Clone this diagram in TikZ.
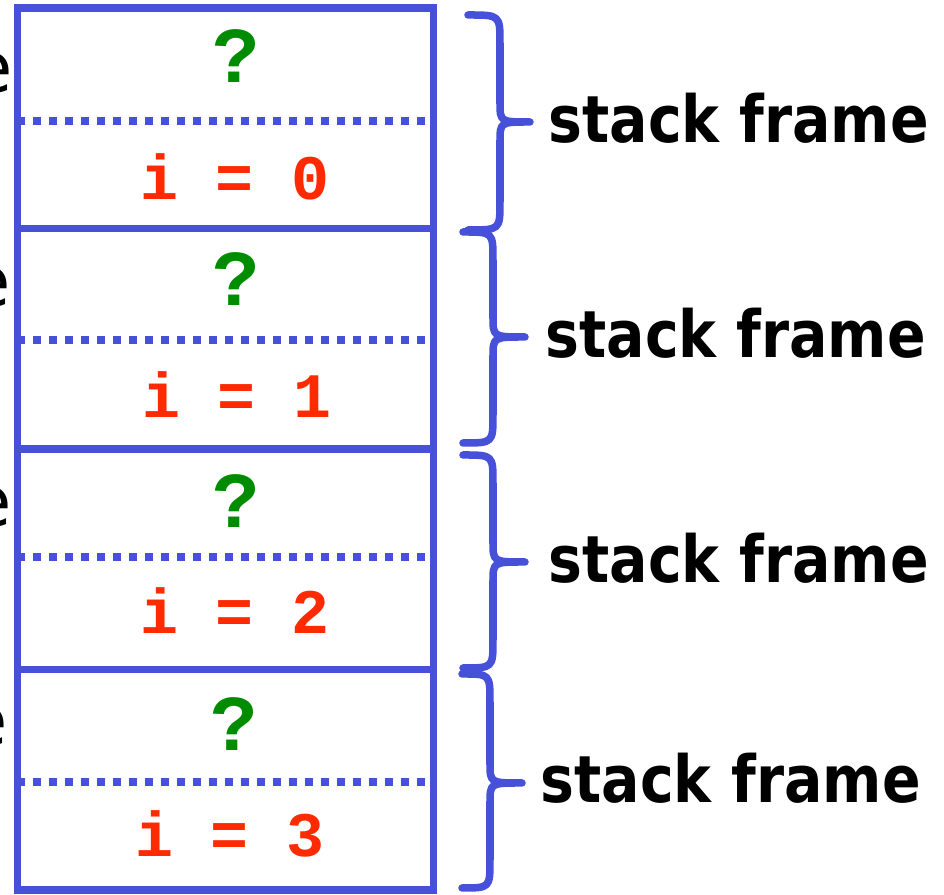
\documentclass[tikz,border=0pt]{standalone}
\usepackage{fontspec}
\setmainfont{DejaVu Sans}
\newfontfamily\monobold{Liberation Mono}[BoldFont={Liberation Mono Bold}]
\newfontfamily\labelfont{DejaVu Sans}
\definecolor{frameblue}{RGB}{70,80,216}
\definecolor{qgreen}{RGB}{0,140,0}
\definecolor{ired}{RGB}{255,42,0}
\tikzset{
  border/.style={draw=frameblue, line width=0.075cm, line join=miter},
  dotsep/.style={draw=frameblue, line width=0.08cm, dash pattern=on 0.08cm off 0.08cm, dash phase=0.04cm},
  bracepen/.style={draw=frameblue, line width=0.075cm, line cap=round, line join=round},
  qmark/.style={text=qgreen, font=\monobold\bfseries\fontsize{22.5}{23}\selectfont, anchor=base, inner sep=0pt},
  ivar/.style={text=ired, font=\monobold\bfseries\fontsize{18}{19}\selectfont, anchor=base, inner sep=0pt},
  sflabel/.style={text=black, font=\labelfont\bfseries\fontsize{18.5}{19}\selectfont, anchor=base west, inner sep=0pt},
  cutlabel/.style={text=black, font=\labelfont\fontsize{20}{20}\selectfont, anchor=base east, inner sep=0pt},
}
\newcommand{\drawbrace}[6]{% xarm, xspine, xtip, ytop, ymid, ybot
  \draw[bracepen] (#1,#4) .. controls (#2,#4) .. (#2,#4+28) -- (#2,#5-20)
    .. controls (#2,#5) .. (#3,#5)
    .. controls (#2,#5) .. (#2,#5+20) -- (#2,#6-28)
    .. controls (#2,#6) .. (#1,#6);
}
\begin{document}
\begin{tikzpicture}[x=0.01cm,y=-0.01cm]
\useasboundingbox (0,0) rectangle (944,895);
% cut-off labels at the left edge
\node[cutlabel] (e1) at (13,93) {e};
\node[cutlabel] (e2) at (11,307) {e};
\node[cutlabel] (e3) at (12,527) {e};
\node[cutlabel] (e4) at (8,746) {e};
% frames
\foreach \d in {121, 340, 557, 782} {
  \draw[dotsep] (21,\d) -- (430,\d);
}
\draw[border] (17.5,8) rectangle (433.5,890);
\draw[border] (17.5,228.5) -- (433.5,228.5);
\draw[border] (17.5,449) -- (433.5,449);
\draw[border] (17.5,669.5) -- (433.5,669.5);
% texts in frames
\node[qmark] (q0) at (236,83) {?};
\node[qmark] (q1) at (236,306) {?};
\node[qmark] (q2) at (236,528) {?};
\node[qmark] (q3) at (234,751) {?};
\node[ivar] (i0) at (235,200) {i = 0};
\node[ivar] (i1) at (237,418) {i = 1};
\node[ivar] (i2) at (235,634) {i = 2};
\node[ivar] (i3) at (230,857) {i = 3};
% braces
\drawbrace{468}{500}{530}{15}{122}{230}
\drawbrace{463}{493}{525}{232}{337}{443}
\drawbrace{463}{493}{525}{455}{562}{668}
\drawbrace{462}{490}{522}{674}{783}{888}
% labels
\node[sflabel] (s0) at (548,143) {\scalebox{0.875}[1]{stack frame}};
\node[sflabel] (s1) at (545,358) {\scalebox{0.875}[1]{stack frame}};
\node[sflabel] (s2) at (548,583) {\scalebox{0.875}[1]{stack frame}};
\node[sflabel] (s3) at (540,803) {\scalebox{0.875}[1]{stack frame}};
\end{tikzpicture}
\end{document}
